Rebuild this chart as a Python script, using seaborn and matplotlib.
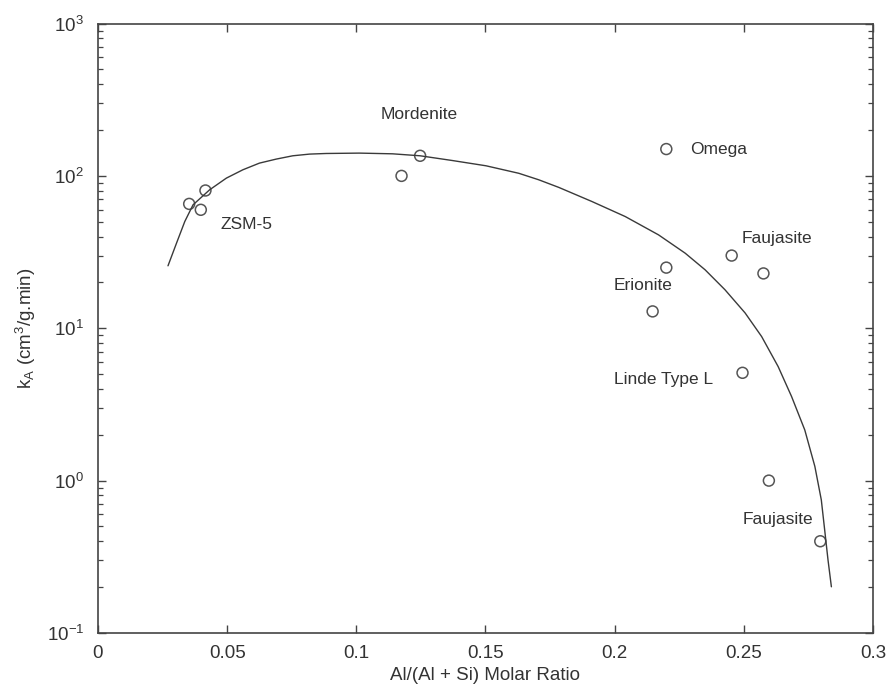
import numpy as np
import pandas as pd
import matplotlib
matplotlib.use("Agg")
import matplotlib.pyplot as plt
import seaborn as sns

# === Data ===
# measured zeolites
zeo_x = [0.0353, 0.0398, 0.0416, 0.1175, 0.1247, 0.220, 0.220, 0.2147,
         0.2453, 0.2576, 0.2495, 0.2597, 0.2796]
zeo_k = [65.5, 59.9, 80.2, 100.0, 135.5, 150.0, 25.0, 12.9,
         30.0, 22.9, 5.1, 1.0, 0.4]

fit_x = [0.0271, 0.0304, 0.0336, 0.0368, 0.0432, 0.0497, 0.0561, 0.0625,
         0.0690, 0.0754, 0.0819, 0.0883, 0.1012, 0.1140, 0.1247, 0.1371,
         0.1502, 0.1629, 0.1706, 0.1784, 0.1912, 0.2041, 0.2170, 0.2273,
         0.2350, 0.2427, 0.2505, 0.2569, 0.2633, 0.2685, 0.2736, 0.2775,
         0.2800, 0.2813, 0.2826, 0.2839]
fit_k = [25.7, 36.2, 50.2, 64.6, 81.0, 96.7, 109.7, 121.3,
         128.9, 135.5, 139.0, 140.3, 141.1, 139.6, 135.5, 126.2,
         116.5, 104.0, 94.3, 84.0, 67.9, 54.1, 41.0, 31.1,
         24.2, 17.9, 12.6, 8.82, 5.60, 3.56, 2.15, 1.24,
         0.747, 0.475, 0.301, 0.201]

# annotations: text, x, y (vertical centre)
labels = ["Mordenite", "ZSM-5", "Omega", "Faujasite", "Erionite",
          "Linde Type L", "Faujasite"]
label_x = [0.1243, 0.0475, 0.2292, 0.2492, 0.1996, 0.1996, 0.2494]
label_y = [252.0, 47.8, 150.0, 38.6, 19.1, 4.63, 0.552]
label_ha = ["center", "left", "left", "left", "left", "left", "left"]

points = pd.DataFrame({"x": zeo_x, "k": zeo_k})
curve = pd.DataFrame({"x": fit_x, "k": fit_k})

# === Style ===
sns.set_style("ticks")
plt.rcParams["font.family"] = ["Liberation Sans", "DejaVu Sans"]
plt.rcParams["mathtext.fontset"] = "custom"
plt.rcParams["mathtext.rm"] = "Liberation Sans"
plt.rcParams["mathtext.it"] = "Liberation Sans"
txt = "#333333"
edge = "#444444"

fig = plt.figure(figsize=(8.86, 6.84), dpi=100)
ax = fig.add_axes([0.1106, 0.0746, 0.8747, 0.891])

sns.lineplot(data=curve, x="x", y="k", ax=ax, color="#3a3a3a", lw=1.0,
             sort=False, estimator=None)
sns.scatterplot(data=points, x="x", y="k", ax=ax, marker="o", s=62,
                facecolor="none", edgecolor="#555555", linewidth=1.1)

ax.set_yscale("log")
ax.set_xlim(0, 0.3)
ax.set_ylim(0.1, 1000)
ax.set_xticks([0, 0.05, 0.1, 0.15, 0.2, 0.25, 0.3])
ax.set_xticklabels(["0", "0.05", "0.1", "0.15", "0.2", "0.25", "0.3"])

for t, lx, ly, ha in zip(labels, label_x, label_y, label_ha):
    ax.text(lx, ly, t, ha=ha, va="center", fontsize=12.5, color=txt)

ax.set_xlabel("Al/(Al + Si) Molar Ratio", fontsize=13.5, color=txt, labelpad=3)
ax.set_ylabel(r"k$_A$ (cm$^3$/g.min)", fontsize=13.5, color=txt, labelpad=6)

for s in ax.spines.values():
    s.set_visible(True)
    s.set_color(edge)
    s.set_linewidth(1.2)
ax.tick_params(which="both", direction="in", top=True, right=True,
               colors=edge, labelcolor=txt, labelsize=13.5)
ax.tick_params(which="major", length=6, width=1)
ax.tick_params(which="minor", length=3.5, width=0.9)
ax.tick_params(axis="x", which="both", pad=9)
ax.tick_params(axis="y", which="both", pad=10)
ax.tick_params(axis="x", which="minor", top=False, bottom=False)

fig.savefig("out.png", dpi=100)
